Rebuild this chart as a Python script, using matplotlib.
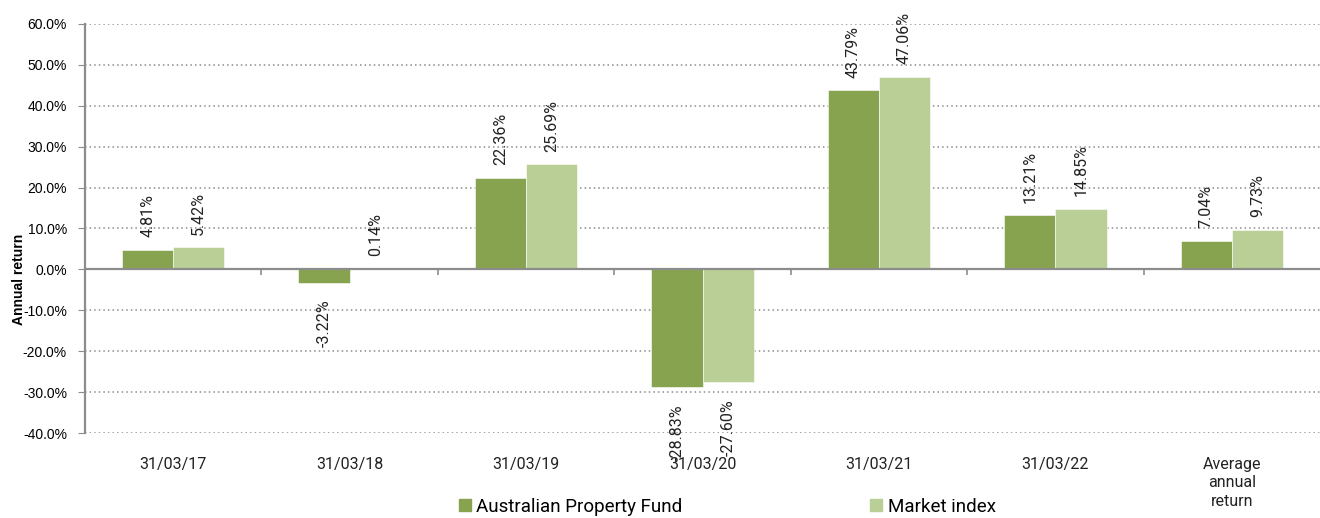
import matplotlib
matplotlib.use("Agg")
import matplotlib.pyplot as plt
import numpy as np
from matplotlib.patches import Patch
from matplotlib.ticker import FuncFormatter, MultipleLocator

categories = ["31/03/17", "31/03/18", "31/03/19", "31/03/20", "31/03/21",
              "31/03/22", "Average\nannual\nreturn"]
fund = [4.81, -3.22, 22.36, -28.83, 43.79, 13.21, 7.04]
market = [5.42, 0.14, 25.69, -27.60, 47.06, 14.85, 9.73]
series_names = ["Australian Property Fund", "Market index"]

DARK = "#87A34F"
LIGHT = "#B9CF96"
GRAY = "#8C8C8C"

plt.rcParams["font.family"] = ["Roboto", "DejaVu Sans"]

fig = plt.figure(figsize=(13.2, 5.18), dpi=100)
ax = fig.add_axes([0.0644, 0.164, 0.9356, 0.79])

x = np.arange(len(categories))
w = 0.29
b1 = ax.bar(x - w / 2, fund, w, color=DARK, edgecolor="white", lw=0.4, zorder=3)
b2 = ax.bar(x + w / 2, market, w, color=LIGHT, edgecolor="white", lw=0.4, zorder=3)

# rotated value labels, above positive bars and below negative ones
for bars, vals in ((b1, fund), (b2, market)):
    for rect, v in zip(bars, vals):
        xc = rect.get_x() + rect.get_width() / 2
        if v >= 0:
            ax.annotate(f"{v:.2f}%", (xc, v), xytext=(0, 9), textcoords="offset points",
                        rotation=90, ha="center", va="bottom", fontsize=11.5,
                        color="#222222", zorder=5)
        else:
            ax.annotate(f"{v:.2f}%", (xc, v), xytext=(0, -12), textcoords="offset points",
                        rotation=90, ha="center", va="top", fontsize=11.5,
                        color="#222222", zorder=5)

ax.set_xlim(-0.5, len(categories) - 0.5)
ax.set_ylim(-40, 60)
ax.yaxis.set_major_locator(MultipleLocator(10))
ax.yaxis.set_major_formatter(FuncFormatter(lambda v, _: f"{v:.1f}%"))
ax.tick_params(axis="y", length=5, color=GRAY, labelsize=10,
               labelfontfamily="Liberation Sans", pad=8)

# category boundaries as ticks on the zero line
ax.spines["bottom"].set_position(("data", 0))
ax.spines["bottom"].set_color(GRAY)
ax.spines["bottom"].set_linewidth(1.6)
ax.spines["bottom"].set_zorder(4)
ax.set_xticks(x[:-1] + 0.5)
ax.set_xticklabels([])
ax.tick_params(axis="x", length=4, color=GRAY, width=1.2, direction="out")

for cx, name in zip(x, categories):
    ax.text(cx, -0.058, name, transform=ax.get_xaxis_transform(), ha="center",
            va="top", fontsize=11.5, color="#222222", linespacing=1.3)

ax.spines["left"].set_color(GRAY)
ax.spines["left"].set_linewidth(1.6)
ax.spines["top"].set_visible(False)
ax.spines["right"].set_visible(False)
ax.grid(axis="y", linestyle=(0, (1, 2)), color="#8C8C8C", lw=1.1, zorder=0)
ax.set_axisbelow(True)

fig.text(0.0145, 0.46, "Annual return", rotation=90, ha="center", va="center",
         fontsize=10, fontweight="bold", family=["Liberation Sans"])

handles = [Patch(color=DARK), Patch(color=LIGHT)]
fig.legend(handles, series_names, loc="center", bbox_to_anchor=(0.551, 0.022),
           ncol=2, frameon=False, fontsize=13.5, handlelength=0.65, handleheight=0.65,
           handletextpad=0.3, columnspacing=10.0, borderpad=0.2)

fig.savefig("out.png", dpi=100)
